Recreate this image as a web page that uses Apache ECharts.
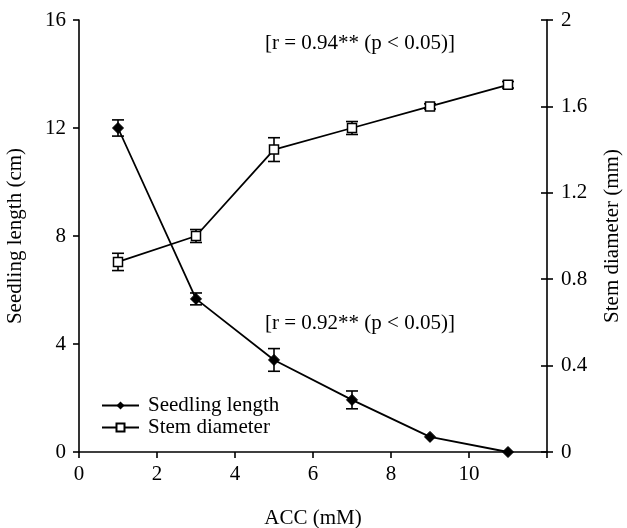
<!DOCTYPE html>
<html>
<head>
<meta charset="utf-8">
<script src="https://cdn.jsdelivr.net/npm/echarts@6/dist/echarts.min.js"></script>
<style>
html, body { margin: 0; padding: 0; background: #fff; }
#main { width: 627px; height: 528px; }
</style>
</head>
<body>
<div id="main"></div>
<script>
// data
const acc = [1, 3, 5, 7, 9, 11];
const seedlingLength = [12.0, 5.67, 3.41, 1.93, 0.56, 0.0];
const seedlingErr = [0.3, 0.22, 0.42, 0.33, 0, 0];
const stemDiameter = [0.88, 1.0, 1.40, 1.50, 1.60, 1.70];
const stemErr = [0.04, 0.03, 0.055, 0.03, 0.012, 0.015];
const xTicks = [0, 2, 4, 6, 8, 10];

const FONT = '"Liberation Serif", "DejaVu Serif", serif';
const txt = { color: '#000', fontFamily: FONT, fontSize: 21 };

const chart = echarts.init(document.getElementById('main'), null, { renderer: 'canvas' });

function pairs(ys) {
	return acc.map((x, i) => [x, ys[i]]);
}
function errData(ys, es) {
	return acc.map((x, i) => [x, ys[i] - es[i], ys[i] + es[i]]).filter((d, i) => es[i] > 0);
}
function errBar(params, api) {
	const lo = api.coord([api.value(0), api.value(1)]);
	const hi = api.coord([api.value(0), api.value(2)]);
	const w = 6;
	const st = { stroke: '#000', lineWidth: 1.6 };
	return {
		type: 'group',
		children: [
			{ type: 'line', shape: { x1: lo[0], y1: lo[1], x2: hi[0], y2: hi[1] }, style: st },
			{ type: 'line', shape: { x1: lo[0] - w, y1: lo[1], x2: lo[0] + w, y2: lo[1] }, style: st },
			{ type: 'line', shape: { x1: hi[0] - w, y1: hi[1], x2: hi[0] + w, y2: hi[1] }, style: st }
		]
	};
}

const option = {
	animation: false,
	backgroundColor: '#fff',
	grid: { left: 79, right: 80, top: 20, bottom: 76, containLabel: false, outerBoundsMode: 'none' },
	textStyle: { fontFamily: FONT },
	legend: {
		orient: 'vertical',
		left: 101,
		top: 395,
		padding: 0,
		itemWidth: 37,
		itemHeight: 10,
		itemGap: 1,
		textStyle: Object.assign({ padding: [0, 0, 0, 4] }, txt),
		data: ['Seedling length', 'Stem diameter']
	},
	xAxis: {
		type: 'value',
		min: 0,
		max: 12,
		interval: 2,
		name: 'ACC (mM)',
		nameLocation: 'middle',
		nameGap: 56,
		nameTextStyle: txt,
		axisLine: { lineStyle: { color: '#000', width: 1.6 } },
		axisTick: { length: 6, lineStyle: { color: '#000', width: 1.6 } },
		axisLabel: Object.assign({ margin: 12, formatter: v => xTicks.includes(v) ? String(v) : '' }, txt),
		splitLine: { show: false }
	},
	yAxis: [
		{
			type: 'value',
			min: 0,
			max: 16,
			interval: 4,
			name: 'Seedling length (cm)',
			nameLocation: 'middle',
			nameGap: 53,
			nameRotate: 90,
			nameTextStyle: txt,
			axisLine: { show: true, lineStyle: { color: '#000', width: 1.6 } },
			axisTick: { show: true, length: 6, lineStyle: { color: '#000', width: 1.6 } },
			axisLabel: Object.assign({ margin: 13 }, txt),
			splitLine: { show: false }
		},
		{
			type: 'value',
			position: 'right',
			min: 0,
			max: 2,
			interval: 0.4,
			name: 'Stem diameter (mm)',
			nameLocation: 'middle',
			nameGap: 55,
			nameRotate: 90,
			nameTextStyle: txt,
			axisLine: { show: true, lineStyle: { color: '#000', width: 1.6 } },
			axisTick: { show: true, length: 6, lineStyle: { color: '#000', width: 1.6 } },
			axisLabel: Object.assign({ margin: 14 }, txt),
			splitLine: { show: false }
		},
		{
			// inside half of the crossing ticks on the right axis
			type: 'value',
			position: 'right',
			min: 0,
			max: 2,
			interval: 0.4,
			axisLine: { show: false },
			axisTick: { show: true, inside: true, length: 6, lineStyle: { color: '#000', width: 1.6 } },
			axisLabel: { show: false },
			splitLine: { show: false }
		}
	],
	graphic: [
		{ type: 'text', left: 265, top: 33, style: { text: '[r = 0.94** (p < 0.05)]', fill: '#000', font: '21px ' + FONT } },
		{ type: 'text', left: 265, top: 313, style: { text: '[r = 0.92** (p < 0.05)]', fill: '#000', font: '21px ' + FONT } }
	],
	series: [
		{
			name: 'Seedling length',
			type: 'line',
			yAxisIndex: 0,
			data: pairs(seedlingLength),
			symbol: 'diamond',
			symbolSize: 11,
			lineStyle: { color: '#000', width: 1.8 },
			itemStyle: { color: '#000', borderColor: '#000' },
			z: 3
		},
		{
			name: 'Stem diameter',
			type: 'line',
			yAxisIndex: 1,
			data: pairs(stemDiameter),
			symbol: 'rect',
			symbolSize: 9,
			showAllSymbol: true,
			lineStyle: { color: '#000', width: 1.8 },
			itemStyle: { color: '#fff', borderColor: '#000', borderWidth: 1.5 },
			z: 3
		},
		{
			type: 'custom',
			yAxisIndex: 0,
			data: errData(seedlingLength, seedlingErr),
			renderItem: errBar,
			z: 2
		},
		{
			type: 'custom',
			yAxisIndex: 1,
			data: errData(stemDiameter, stemErr),
			renderItem: errBar,
			z: 2
		}
	]
};

chart.setOption(option);
</script>
</body>
</html>
